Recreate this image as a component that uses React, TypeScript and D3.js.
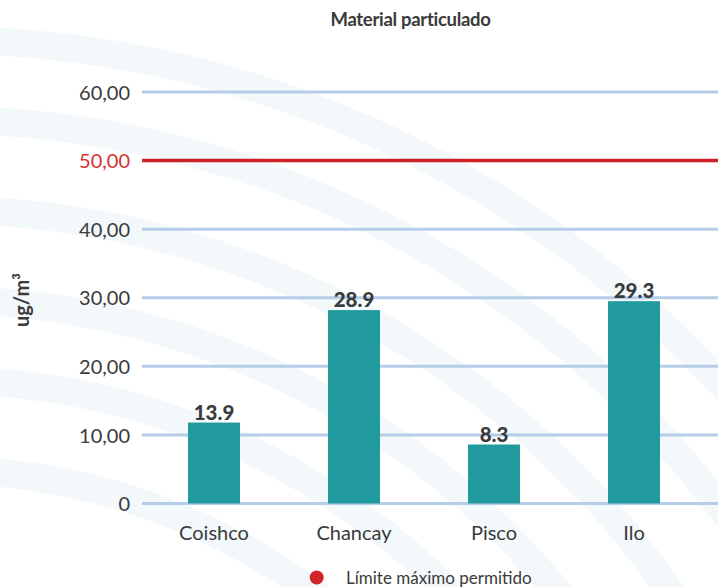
import React from "react";
import * as d3 from "d3";

const title = "Material particulado";
const yAxisLabel = "ug/m³";
const categories = ["Coishco", "Chancay", "Pisco", "Ilo"];
// Printed value labels above the bars
const valueLabels = ["13.9", "28.9", "8.3", "29.3"];
// Bar heights as drawn in the picture (read against the gridlines)
const barHeights = [11.8, 28.2, 8.6, 29.5];
const yTicks = [0, 10, 20, 30, 40, 50, 60];
const limitValue = 50;
const legendLabel = "Límite máximo permitido";
// Decorative background wave radii
const waveRadii = [1060, 980, 890, 800, 720, 630];

const W = 718;
const H = 587;

const fmt = d3.formatLocale({ decimal: ",", thousands: ".", grouping: [3], currency: ["", ""] }).format(".2f");

export default function App() {
  const x = d3
    .scaleBand<string>()
    .domain(categories)
    .range([144, 704])
    .paddingInner(0.629)
    .paddingOuter(0.3145);
  const y = d3.scaleLinear().domain([0, 60]).range([503.5, 92]);

  const waveArc = d3.arc();

  const font = "Lato, 'Open Sans', sans-serif";

  return (
    <div style={{ position: "absolute", left: 0, top: 0 }}>
      <svg width={W} height={H} style={{ display: "block", background: "#ffffff" }}>
        <g transform="translate(-60,1100)">
          {waveRadii.map((r, i) => (
            <path
              key={i}
              d={
                waveArc({
                  innerRadius: r - 14,
                  outerRadius: r + 14,
                  startAngle: -0.3,
                  endAngle: 1.6,
                } as any) || ""
              }
              fill="#f3f8fb"
            />
          ))}
        </g>

        <text
          x={410.5}
          y={26}
          textAnchor="middle"
          fontFamily={font}
          fontWeight={700}
          fontSize={18.5}
          fill="#3a3a3a"
          letterSpacing={-0.3}
        >
          {title}
        </text>

        <text
          transform={`translate(29,300) rotate(-90)`}
          textAnchor="middle"
          fontFamily={font}
          fontWeight={700}
          fontSize={20}
          fill="#3a3a3a"
        >
          {yAxisLabel}
        </text>

        {yTicks.map((t) => (
          <g key={t}>
            <line
              x1={142}
              x2={W}
              y1={y(t)}
              y2={y(t)}
              stroke={t === limitValue ? "#cf2027" : "#b6cde9"}
              strokeWidth={t === limitValue ? 3.5 : 3}
            />
            <text
              x={130}
              y={y(t)}
              dy="0.38em"
              textAnchor="end"
              fontFamily={font}
              fontWeight={400}
              fontSize={20}
              fill={t === limitValue ? "#d5332f" : "#3a3a3a"}
            >
              {t === 0 ? "0" : fmt(t)}
            </text>
          </g>
        ))}

        {categories.map((c, i) => (
          <g key={c}>
            <rect
              x={x(c)}
              y={y(barHeights[i])}
              width={x.bandwidth()}
              height={y(0) - y(barHeights[i])}
              fill="#219a9d"
            />
            <text
              x={(x(c) as number) + x.bandwidth() / 2}
              y={y(barHeights[i]) - 3}
              textAnchor="middle"
              fontFamily={font}
              fontWeight={900}
              fontSize={20.5}
              fill="#3a3b3d"
            >
              {valueLabels[i]}
            </text>
            <text
              x={(x(c) as number) + x.bandwidth() / 2}
              y={540}
              textAnchor="middle"
              fontFamily={font}
              fontWeight={400}
              fontSize={20}
              fill="#3a3a3a"
            >
              {c}
            </text>
          </g>
        ))}

        <circle cx={316.7} cy={577.5} r={7} fill="#d0232a" />
        <text x={346} y={583.5} fontFamily={font} fontWeight={400} fontSize={17} fill="#3a3a3a">
          {legendLabel}
        </text>
      </svg>
    </div>
  );
}
